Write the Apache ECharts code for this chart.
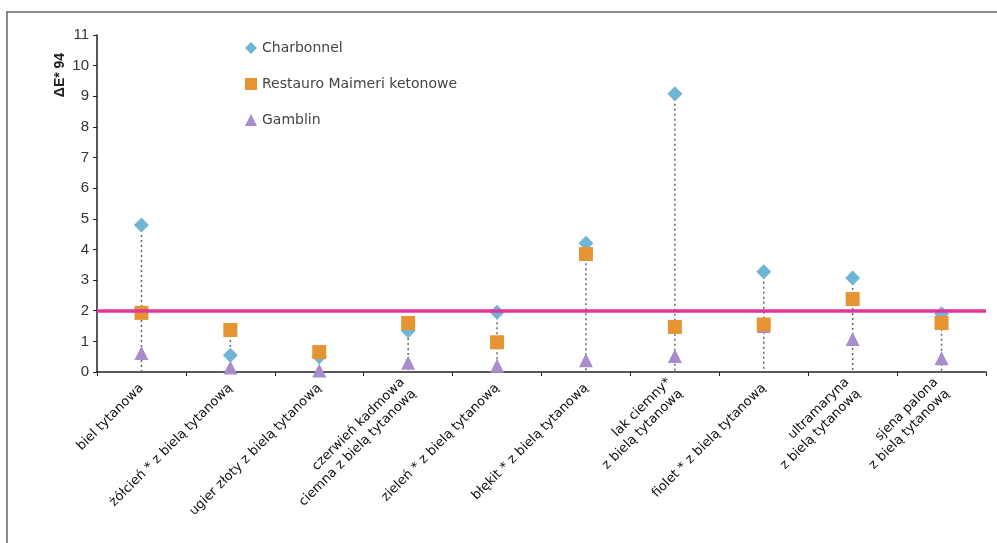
<!DOCTYPE html>
<html>
<head>
<meta charset="utf-8">
<script src="https://cdn.jsdelivr.net/npm/echarts@6/dist/echarts.min.js"></script>
<style>html,body{margin:0;padding:0;background:#fff;}#c{width:997px;height:543px;}</style>
</head>
<body>
<div id="c"></div>
<script>
const categories = [
  'biel tytanowa',
  'żółcień * z bielą tytanową',
  'ugier złoty z bielą tytanową',
  'czerwień kadmowa\nciemna z bielą tytanową',
  'zieleń * z bielą tytanową',
  'błękit * z bielą tytanową',
  'lak ciemny*\nz bielą tytanową',
  'fiolet * z bielą tytanową',
  'ultramaryna\nz bielą tytanową',
  'sjena palona\nz bielą tytanową'
];
const charbonnel = [4.8, 0.55, 0.5, 1.35, 1.95, 4.2, 9.08, 3.27, 3.07, 1.9];
const restauro   = [1.93, 1.37, 0.65, 1.6, 0.97, 3.85, 1.47, 1.55, 2.38, 1.6];
const gamblin    = [0.62, 0.15, 0.05, 0.3, 0.2, 0.38, 0.52, 1.5, 1.08, 0.45];
const threshold = 2;
const yTicks = [0, 11, 1];

const maxVals = categories.map((c, i) => [i, Math.max(charbonnel[i], restauro[i], gamblin[i])]);

const chart = echarts.init(document.getElementById('c'));
chart.setOption({
  animation: false,
  backgroundColor: '#fff',
  textStyle: { fontFamily: 'Liberation Sans, Arial, sans-serif' },
  grid: { left: 97, right: 11, top: 35, bottom: 171 },
  legend: {
    orient: 'vertical',
    left: 240,
    top: 36,
    itemGap: 22,
    itemWidth: 12,
    itemHeight: 12,
    textStyle: { fontSize: 14, color: '#444', fontFamily: 'DejaVu Sans, sans-serif' },
    data: [
      { name: 'Charbonnel', icon: 'diamond' },
      { name: 'Restauro Maimeri ketonowe', icon: 'rect' },
      { name: 'Gamblin', icon: 'triangle' }
    ]
  },
  graphic: [
    { type: 'polyline', shape: { points: [[7, 543], [7, 12], [997, 12]] }, style: { stroke: '#666', lineWidth: 1.5, fill: null } },
    { type: 'text', x: 60, y: 75, rotation: Math.PI / 2,
      style: { text: 'ΔE* 94', font: 'bold 14px Liberation Sans, Arial, sans-serif', fill: '#222', align: 'center', verticalAlign: 'middle' } }
  ],
  xAxis: {
    type: 'category',
    data: categories,
    boundaryGap: true,
    axisLine: { lineStyle: { color: '#222', width: 1.5 } },
    axisTick: { show: true, length: 4, lineStyle: { color: '#222' } },
    axisLabel: { rotate: 45, interval: 0, fontSize: 13, color: '#111', margin: 14, lineHeight: 16,
                 fontFamily: 'DejaVu Sans, sans-serif' }
  },
  yAxis: {
    type: 'value',
    min: yTicks[0], max: yTicks[1], interval: yTicks[2],
    splitLine: { show: false },
    axisLine: { show: true, lineStyle: { color: '#222', width: 1.5 } },
    axisTick: { show: true, length: 4, inside: false, lineStyle: { color: '#222' } },
    axisLabel: { fontSize: 15, color: '#333', margin: 8 }
  },
  series: [
    {
      type: 'custom',
      name: 'drop',
      silent: true,
      z: 1,
      data: maxVals,
      renderItem: function (params, api) {
        const top = api.coord([api.value(0), api.value(1)]);
        const bot = api.coord([api.value(0), 0]);
        return {
          type: 'line',
          shape: { x1: top[0], y1: top[1], x2: bot[0], y2: bot[1] },
          style: { stroke: '#666', lineWidth: 1.5, lineDash: [2, 3] }
        };
      }
    },
    {
      type: 'scatter', name: 'Gamblin', symbol: 'triangle', symbolSize: 14, z: 3,
      itemStyle: { color: '#a98ccb', opacity: 1 },
      data: gamblin
    },
    {
      type: 'scatter', name: 'Charbonnel', symbol: 'diamond', symbolSize: 15, z: 3,
      itemStyle: { color: '#6fb5d6', opacity: 1 },
      data: charbonnel,
      markLine: {
        silent: true, symbol: 'none', label: { show: false },
        lineStyle: { color: '#e0369c', width: 3.5, type: 'solid' },
        data: [{ yAxis: threshold }]
      }
    },
    {
      type: 'scatter', name: 'Restauro Maimeri ketonowe', symbol: 'rect', symbolSize: 14, z: 4,
      itemStyle: { color: '#e69432', opacity: 1 },
      data: restauro
    }
  ]
});
</script>
</body>
</html>
